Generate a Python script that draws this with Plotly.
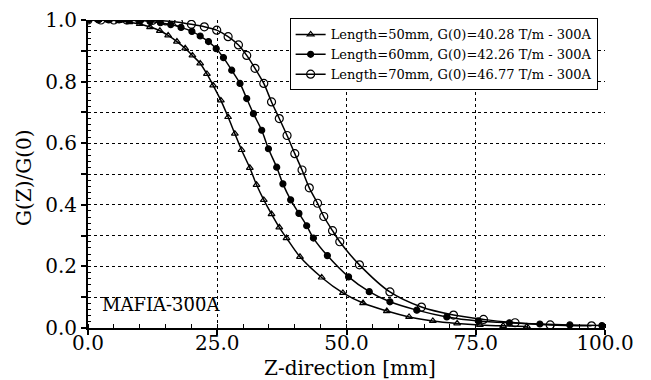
import plotly.graph_objects as go

# ---- data ----
z_50 = [0, 2, 4, 6, 8, 10, 12, 13.9, 15.5, 17.2, 18.8, 20.2, 21.7, 23.0, 24.2, 25.7, 27.1,
        28.4, 29.7, 31.3, 32.6, 34.0, 35.5, 37.0, 38.4, 41.0, 45.2, 49.3, 53.2, 57.8, 62.1,
        66.7, 71.4, 75.8, 80.3, 84.9]
g_50 = [1.000, 1.000, 0.999, 0.997, 0.993, 0.987, 0.977, 0.965, 0.950, 0.930, 0.908, 0.885,
        0.859, 0.825, 0.788, 0.739, 0.685, 0.631, 0.578, 0.520, 0.465, 0.416, 0.370, 0.327,
        0.292, 0.231, 0.164, 0.114, 0.081, 0.055, 0.036, 0.023, 0.015, 0.010, 0.007, 0.005]

z_60 = [0, 2, 4, 6, 8, 10, 12, 14, 16, 18, 20.1, 21.7, 23.3, 24.8, 26.2, 27.8, 29.4, 30.7,
        32.0, 33.6, 34.9, 36.5, 37.7, 39.2, 40.8, 42.3, 43.6, 46.3, 50.4, 54.4, 58.4, 63.6,
        69.4, 75.5, 81.5, 87.4, 93.2, 99.4]
g_60 = [1.000, 1.000, 1.000, 1.000, 0.999, 0.998, 0.995, 0.991, 0.985, 0.976, 0.963, 0.948,
        0.930, 0.907, 0.878, 0.837, 0.794, 0.745, 0.696, 0.642, 0.582, 0.522, 0.468, 0.416,
        0.372, 0.332, 0.292, 0.235, 0.166, 0.118, 0.085, 0.058, 0.036, 0.023, 0.017, 0.013,
        0.010, 0.008]

z_70 = [0, 2.5, 5, 7.5, 10, 12.5, 15, 17.5, 20, 22.5, 24.9, 27.1, 29.1, 30.7, 32.3, 34.0,
        35.5, 37.0, 38.5, 40.0, 41.4, 42.8, 44.4, 45.6, 47.3, 48.7, 52.5, 58.4, 64.5, 70.7,
        76.5, 82.6, 89.4, 97.4]
g_70 = [1.000, 1.000, 1.000, 1.000, 1.000, 0.999, 0.997, 0.993, 0.986, 0.978, 0.967, 0.946,
        0.919, 0.885, 0.843, 0.794, 0.734, 0.680, 0.625, 0.566, 0.513, 0.455, 0.405, 0.362,
        0.316, 0.280, 0.205, 0.117, 0.068, 0.042, 0.028, 0.017, 0.010, 0.007]

series_names = ["Length=50mm, G(0)=40.28 T/m - 300A",
                "Length=60mm, G(0)=42.26 T/m - 300A",
                "Length=70mm, G(0)=46.77 T/m - 300A"]

x_tick_vals = [0, 25, 50, 75, 100]
x_tick_text = ["0.0", "25.0", "50.0", "75.0", "100.0"]
y_tick_vals = [0.0, 0.1, 0.2, 0.3, 0.4, 0.5, 0.6, 0.7, 0.8, 0.9, 1.0]
y_tick_text = ["0.0", "", "0.2", "", "0.4", "", "0.6", "", "0.8", "", "1.0"]

x_title = "Z-direction [mm]"
y_title = "G(Z)/G(0)"
annotation_text = "MAFIA-300A"

FONT = "DejaVu Serif"

fig = go.Figure()
styles = [
    dict(symbol="triangle-up-open", size=6),
    dict(symbol="circle", size=6),
    dict(symbol="circle-open", size=8),
]
for zs, gs, name, st in zip([z_50, z_60, z_70], [g_50, g_60, g_70], series_names, styles):
    fig.add_trace(go.Scatter(
        x=zs, y=gs, name=name, mode="lines+markers",
        line=dict(color="black", width=1.5, shape="spline", smoothing=0.8),
        marker=dict(symbol=st["symbol"], size=st["size"], color="black",
                    line=dict(color="black", width=1.2)),
    ))

fig.add_annotation(x=2.3, y=0.075, xref="x", yref="y", text=annotation_text,
                   showarrow=False, xanchor="left", yanchor="middle",
                   font=dict(family=FONT, size=18, color="black"))
fig.add_annotation(x=0.507, y=0, xref="paper", yref="paper", text=x_title,
                   showarrow=False, xanchor="center", yanchor="middle", yshift=-40,
                   font=dict(family=FONT, size=20, color="black"))
fig.add_annotation(x=-0.124, y=0.49, xref="paper", yref="paper", text=y_title,
                   showarrow=False, xanchor="center", yanchor="middle", textangle=-90,
                   font=dict(family=FONT, size=20, color="black"))

fig.update_layout(
    width=643, height=372,
    margin=dict(l=80, r=46, t=12, b=52, autoexpand=False),
    paper_bgcolor="white", plot_bgcolor="white",
    font=dict(family=FONT, color="black"),
    legend=dict(x=0.39, y=1.005, xanchor="left", yanchor="top",
                bgcolor="white", bordercolor="black", borderwidth=1,
                font=dict(family=FONT, size=13, color="black"),
                itemwidth=30, tracegroupgap=0),
    showlegend=True,
)
fig.update_xaxes(
    range=[0, 100], tickvals=x_tick_vals, ticktext=x_tick_text, automargin=False,
    ticks="outside", ticklen=5, tickwidth=1.5, tickcolor="black",
    ticklabelstandoff=-9,
    showline=True, linecolor="black", linewidth=2,
    showgrid=True, gridcolor="black", griddash="dot", gridwidth=1.3,
    zeroline=False,
    minor=dict(dtick=5, ticks="inside", ticklen=4, tickcolor="black", tickwidth=1, showgrid=False),
    tickfont=dict(family=FONT, size=20, color="black"),
)
fig.update_yaxes(
    range=[0, 1.0], tickvals=y_tick_vals, ticktext=y_tick_text, automargin=False,
    ticks="outside", ticklen=5, tickwidth=1.5, tickcolor="black",
    showline=True, linecolor="black", linewidth=2,
    showgrid=True, gridcolor="black", griddash="dot", gridwidth=1.3,
    zeroline=False,
    minor=dict(dtick=0.02, ticks="inside", ticklen=3, tickcolor="black", tickwidth=1, showgrid=False),
    tickfont=dict(family=FONT, size=20, color="black"),
)

fig.write_html("out.html")
